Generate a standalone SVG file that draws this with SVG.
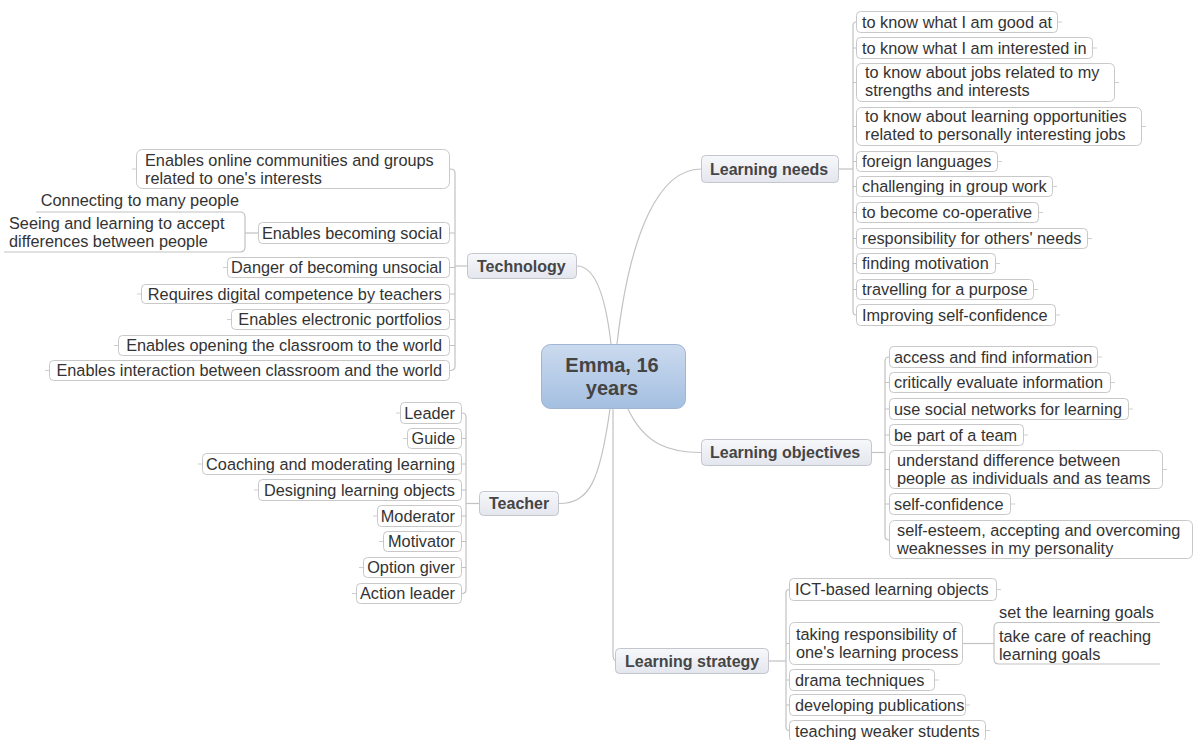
<svg xmlns="http://www.w3.org/2000/svg" width="1194" height="740" viewBox="0 0 1194 740">
  <defs>
    <linearGradient id="gCentral" x1="0" y1="0" x2="0" y2="1">
      <stop offset="0" stop-color="#cbdaee"/>
      <stop offset="1" stop-color="#a4bfe1"/>
    </linearGradient>
    <linearGradient id="gTopic" x1="0" y1="0" x2="0" y2="1">
      <stop offset="0" stop-color="#f7f8fb"/>
      <stop offset="1" stop-color="#e4e6ee"/>
    </linearGradient>
    <style>
      .conn { fill: none; stroke: #c2c2c2; stroke-width: 1.2; }
      .stub { fill: none; stroke: #cfcfcf; stroke-width: 1; }
      .item { fill: #ffffff; stroke: #c8c8c8; stroke-width: 1; }
      .topic { fill: url(#gTopic); stroke: #c4c6ce; stroke-width: 1; }
      .central { fill: url(#gCentral); stroke: #9fb5d3; stroke-width: 1; }
      .t { font-family: "Liberation Sans", Arial, sans-serif; font-size: 16.3px; fill: #333333; }
      .r { text-anchor: end; }
      .tb { font-family: "Liberation Sans", Arial, sans-serif; font-size: 16px; font-weight: bold; fill: #454545; }
      .tc { font-family: "Liberation Sans", Arial, sans-serif; font-size: 20px; font-weight: bold; fill: #444444; text-anchor: middle; }
    </style>
  </defs>

  <rect width="1194" height="740" fill="#ffffff"/>

  <!-- connectors -->
  <g id="connectors">
    <!-- central to main topics -->
    <path class="conn" d="M577,266 C596,266 606,300 611,344"/>
    <path class="conn" d="M617,344 C630,230 660,169 701,169"/>
    <path class="conn" d="M628,409 C645,445 670,452.5 701,452.5"/>
    <path class="conn" d="M610,409 C600,480 590,503.5 559,503.5"/>
    <path class="conn" d="M613,409 V653 Q613,661 616,661"/>

    <!-- Learning needs spine -->
    <path class="conn" d="M839,169 H853"/>
    <path class="conn" d="M856,22 Q853,22 853,26 V311 Q853,315 856,315"/>
    <path class="conn" d="M853,48 H856 M853,82.5 H856 M853,126.5 H856 M853,161.5 H856 M853,186.5 H856 M853,212.5 H856 M853,238.5 H856 M853,263.5 H856 M853,289.5 H856"/>

    <!-- Learning objectives spine -->
    <path class="conn" d="M872,452.5 H885"/>
    <path class="conn" d="M889,357 Q885,357 885,361 V536 Q885,540 889,540"/>
    <path class="conn" d="M885,382.5 H889 M885,409 H889 M885,435 H889 M885,469.5 H889 M885,504 H889"/>

    <!-- Technology spine -->
    <path class="conn" d="M467,266 H455"/>
    <path class="conn" d="M450,169 Q455,169 455,173 V366 Q455,370.5 450,370.5"/>
    <path class="conn" d="M455,233 H450 M455,267.5 H450 M455,294 H450 M455,319.5 H450 M455,345.5 H450"/>

    <!-- Enables becoming social children -->
    <path class="conn" d="M258,233 H245"/>
    <path class="conn" d="M36,212 H240 Q245,212 245,217 V247 Q245,252 240,252 H4"/>

    <!-- Teacher spine -->
    <path class="conn" d="M479,503.5 H466"/>
    <path class="conn" d="M462,413 Q466,413 466,417 V589.5 Q466,593.5 462,593.5"/>
    <path class="conn" d="M466,438.5 H462 M466,464 H462 M466,490 H462 M466,516 H462 M466,541.5 H462 M466,567.5 H462"/>

    <!-- Learning strategy spine -->
    <path class="conn" d="M769,661 H786"/>
    <path class="conn" d="M789,589.5 Q786,589.5 786,593 V727 Q786,730.5 789,730.5"/>
    <path class="conn" d="M786,643.5 H789 M786,680 H789 M786,705 H789"/>

    <!-- taking responsibility children -->
    <path class="conn" d="M963,643.5 H994"/>
    <path class="conn" d="M1160,622.5 H999 Q994,622.5 994,627.5 V659 Q994,664 999,664 H1160"/>
  </g>

  <!-- central topic -->
  <g id="central">
    <rect class="central" x="541.5" y="344.5" width="144" height="64" rx="9"/>
    <text class="tc" x="612" y="372">Emma, 16</text>
    <text class="tc" x="612" y="395">years</text>
  </g>

  <!-- main topics -->
  <g id="learning-needs">
    <rect class="topic" x="701.5" y="155.5" width="137" height="27" rx="4"/>
    <text class="tb" x="710" y="174.5">Learning needs</text>
  </g>
  <g id="technology">
    <rect class="topic" x="467.5" y="253.5" width="109" height="25" rx="4"/>
    <text class="tb" x="477" y="271.5">Technology</text>
  </g>
  <g id="learning-objectives">
    <rect class="topic" x="701.5" y="439.5" width="170" height="26" rx="4"/>
    <text class="tb" x="710" y="458">Learning objectives</text>
  </g>
  <g id="teacher">
    <rect class="topic" x="479.5" y="491.5" width="79" height="24" rx="4"/>
    <text class="tb" x="489" y="509">Teacher</text>
  </g>
  <g id="learning-strategy">
    <rect class="topic" x="615.5" y="648.5" width="153" height="25" rx="4"/>
    <text class="tb" x="625" y="666.5">Learning strategy</text>
  </g>

  <!-- Learning needs items -->
  <g id="ln-1">
    <rect class="item" x="856.5" y="11.5" width="201" height="21" rx="4"/>
    <path class="stub" d="M1058,22 h4"/>
    <text class="t" x="862" y="27.5">to know what I am good at</text>
  </g>
  <g id="ln-2">
    <rect class="item" x="856.5" y="37.5" width="236" height="21" rx="4"/>
    <path class="stub" d="M1093,48 h4"/>
    <text class="t" x="862" y="53.5">to know what I am interested in</text>
  </g>
  <g id="ln-3">
    <rect class="item" x="856.5" y="63.5" width="258" height="38" rx="5"/>
    <path class="stub" d="M1115,82.5 h4"/>
    <text class="t" x="865" y="77.5">to know about jobs related to my</text>
    <text class="t" x="865" y="95.5">strengths and interests</text>
  </g>
  <g id="ln-4">
    <rect class="item" x="856.5" y="107.5" width="285" height="38" rx="5"/>
    <path class="stub" d="M1142,126.5 h4"/>
    <text class="t" x="865" y="121.5">to know about learning opportunities</text>
    <text class="t" x="865" y="139.5">related to personally interesting jobs</text>
  </g>
  <g id="ln-5">
    <rect class="item" x="856.5" y="151.5" width="141" height="20" rx="4"/>
    <path class="stub" d="M998,161.5 h4"/>
    <text class="t" x="862" y="167">foreign languages</text>
  </g>
  <g id="ln-6">
    <rect class="item" x="856.5" y="176.5" width="196" height="20" rx="4"/>
    <path class="stub" d="M1053,186.5 h4"/>
    <text class="t" x="862" y="192">challenging in group work</text>
  </g>
  <g id="ln-7">
    <rect class="item" x="856.5" y="202.5" width="182" height="20" rx="4"/>
    <path class="stub" d="M1039,212.5 h4"/>
    <text class="t" x="862" y="218">to become co-operative</text>
  </g>
  <g id="ln-8">
    <rect class="item" x="856.5" y="228.5" width="231" height="20" rx="4"/>
    <path class="stub" d="M1088,238.5 h4"/>
    <text class="t" x="862" y="244">responsibility for others' needs</text>
  </g>
  <g id="ln-9">
    <rect class="item" x="856.5" y="253.5" width="139" height="20" rx="4"/>
    <path class="stub" d="M996,263.5 h4"/>
    <text class="t" x="862" y="269">finding motivation</text>
  </g>
  <g id="ln-10">
    <rect class="item" x="856.5" y="279.5" width="177" height="20" rx="4"/>
    <path class="stub" d="M1034,289.5 h4"/>
    <text class="t" x="862" y="295">travelling for a purpose</text>
  </g>
  <g id="ln-11">
    <rect class="item" x="856.5" y="304.5" width="199" height="21" rx="4"/>
    <path class="stub" d="M1056,315 h4"/>
    <text class="t" x="862" y="320.5">Improving self-confidence</text>
  </g>

  <!-- Learning objectives items -->
  <g id="lo-1">
    <rect class="item" x="889.5" y="346.5" width="208" height="21" rx="4"/>
    <path class="stub" d="M1098,357 h4"/>
    <text class="t" x="894" y="362.5">access and find information</text>
  </g>
  <g id="lo-2">
    <rect class="item" x="889.5" y="372.5" width="221" height="20" rx="4"/>
    <path class="stub" d="M1111,382.5 h4"/>
    <text class="t" x="894" y="388">critically evaluate information</text>
  </g>
  <g id="lo-3">
    <rect class="item" x="889.5" y="398.5" width="239" height="21" rx="4"/>
    <path class="stub" d="M1129,409 h4"/>
    <text class="t" x="894" y="414.5">use social networks for learning</text>
  </g>
  <g id="lo-4">
    <rect class="item" x="889.5" y="424.5" width="134" height="21" rx="4"/>
    <path class="stub" d="M1024,435 h4"/>
    <text class="t" x="894" y="440.5">be part of a team</text>
  </g>
  <g id="lo-5">
    <rect class="item" x="889.5" y="450.5" width="273" height="38" rx="5"/>
    <path class="stub" d="M1163,469.5 h4"/>
    <text class="t" x="897" y="466">understand difference between</text>
    <text class="t" x="897" y="484">people as individuals and as teams</text>
  </g>
  <g id="lo-6">
    <rect class="item" x="889.5" y="493.5" width="121" height="21" rx="4"/>
    <path class="stub" d="M1011,504 h4"/>
    <text class="t" x="894" y="509.5">self-confidence</text>
  </g>
  <g id="lo-7">
    <rect class="item" x="889.5" y="520.5" width="303" height="38" rx="5"/>
    <text class="t" x="897" y="535.5">self-esteem, accepting and overcoming</text>
    <text class="t" x="897" y="553.5">weaknesses in my personality</text>
  </g>

  <!-- Technology items -->
  <g id="tech-1">
    <rect class="item" x="136.5" y="149.5" width="313" height="39" rx="6"/>
    <path class="stub" d="M136,169 h-4"/>
    <text class="t" x="145" y="166">Enables online communities and groups</text>
    <text class="t" x="145" y="184">related to one's interests</text>
  </g>
  <g id="tech-2">
    <rect class="item" x="258.5" y="222.5" width="191" height="21" rx="4"/>
    <text class="t r" x="442" y="238.5">Enables becoming social</text>
  </g>
  <g id="tech-2-1">
    <text class="t r" x="239" y="206">Connecting to many people</text>
  </g>
  <g id="tech-2-2">
    <text class="t" x="9" y="229">Seeing and learning to accept</text>
    <text class="t" x="9" y="247">differences between people</text>
  </g>
  <g id="tech-3">
    <rect class="item" x="227.5" y="257.5" width="222" height="20" rx="4"/>
    <path class="stub" d="M227,267.5 h-4"/>
    <text class="t r" x="442" y="273">Danger of becoming unsocial</text>
  </g>
  <g id="tech-4">
    <rect class="item" x="141.5" y="284.5" width="308" height="19" rx="4"/>
    <path class="stub" d="M141,294 h-4"/>
    <text class="t r" x="442" y="299.5">Requires digital competence by teachers</text>
  </g>
  <g id="tech-5">
    <rect class="item" x="231.5" y="309.5" width="218" height="20" rx="4"/>
    <path class="stub" d="M231,319.5 h-4"/>
    <text class="t r" x="442" y="325">Enables electronic portfolios</text>
  </g>
  <g id="tech-6">
    <rect class="item" x="118.5" y="335.5" width="331" height="20" rx="4"/>
    <path class="stub" d="M118,345.5 h-4"/>
    <text class="t r" x="442" y="351">Enables opening the classroom to the world</text>
  </g>
  <g id="tech-7">
    <rect class="item" x="49.5" y="360.5" width="400" height="20" rx="4"/>
    <path class="stub" d="M49,370.5 h-4"/>
    <text class="t r" x="442" y="376">Enables interaction between classroom and the world</text>
  </g>

  <!-- Teacher items -->
  <g id="teacher-1">
    <rect class="item" x="400.5" y="402.5" width="61" height="21" rx="4"/>
    <path class="stub" d="M400,413 h-4"/>
    <text class="t r" x="455" y="418.5">Leader</text>
  </g>
  <g id="teacher-2">
    <rect class="item" x="407.5" y="428.5" width="54" height="20" rx="4"/>
    <path class="stub" d="M407,438.5 h-4"/>
    <text class="t r" x="455" y="444">Guide</text>
  </g>
  <g id="teacher-3">
    <rect class="item" x="202.5" y="453.5" width="259" height="21" rx="4"/>
    <path class="stub" d="M202,464 h-4"/>
    <text class="t r" x="455" y="469.5">Coaching and moderating learning</text>
  </g>
  <g id="teacher-4">
    <rect class="item" x="258.5" y="479.5" width="203" height="21" rx="4"/>
    <path class="stub" d="M258,490 h-4"/>
    <text class="t r" x="455" y="495.5">Designing learning objects</text>
  </g>
  <g id="teacher-5">
    <rect class="item" x="377.5" y="505.5" width="84" height="21" rx="4"/>
    <path class="stub" d="M377,516 h-4"/>
    <text class="t r" x="455" y="521.5">Moderator</text>
  </g>
  <g id="teacher-6">
    <rect class="item" x="383.5" y="531.5" width="78" height="20" rx="4"/>
    <path class="stub" d="M383,541.5 h-4"/>
    <text class="t r" x="455" y="547">Motivator</text>
  </g>
  <g id="teacher-7">
    <rect class="item" x="363.5" y="557.5" width="98" height="20" rx="4"/>
    <path class="stub" d="M363,567.5 h-4"/>
    <text class="t r" x="455" y="573">Option giver</text>
  </g>
  <g id="teacher-8">
    <rect class="item" x="356.5" y="583.5" width="105" height="20" rx="4"/>
    <path class="stub" d="M356,593.5 h-4"/>
    <text class="t r" x="455" y="599">Action leader</text>
  </g>

  <!-- Learning strategy items -->
  <g id="ls-1">
    <rect class="item" x="789.5" y="578.5" width="207" height="22" rx="4"/>
    <path class="stub" d="M997,589.5 h4"/>
    <text class="t" x="795" y="595">ICT-based learning objects</text>
  </g>
  <g id="ls-2">
    <rect class="item" x="789.5" y="622.5" width="173" height="42" rx="5"/>
    <text class="t" x="796" y="639.5">taking responsibility of</text>
    <text class="t" x="796" y="658">one's learning process</text>
  </g>
  <g id="ls-2-1">
    <text class="t" x="999" y="618">set the learning goals</text>
  </g>
  <g id="ls-2-2">
    <text class="t" x="999" y="642">take care of reaching</text>
    <text class="t" x="999" y="660">learning goals</text>
  </g>
  <g id="ls-3">
    <rect class="item" x="789.5" y="669.5" width="145" height="21" rx="4"/>
    <path class="stub" d="M935,680 h4"/>
    <text class="t" x="795" y="685.5">drama techniques</text>
  </g>
  <g id="ls-4">
    <rect class="item" x="789.5" y="694.5" width="176" height="21" rx="4"/>
    <path class="stub" d="M966,705 h4"/>
    <text class="t" x="795" y="711">developing publications</text>
  </g>
  <g id="ls-5">
    <rect class="item" x="789.5" y="720.5" width="196" height="21" rx="4"/>
    <path class="stub" d="M986,730.5 h4"/>
    <text class="t" x="795" y="736.5">teaching weaker students</text>
  </g>
</svg>
